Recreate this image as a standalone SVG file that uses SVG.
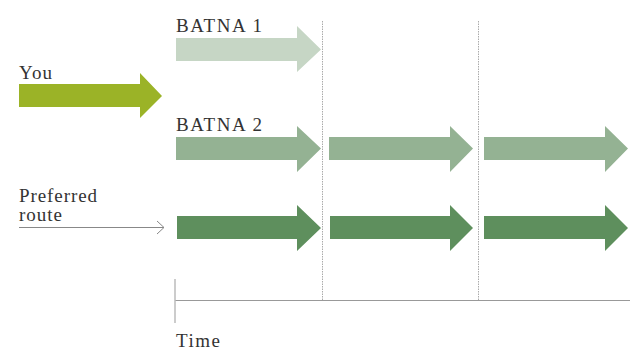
<svg xmlns="http://www.w3.org/2000/svg" width="630" height="352" viewBox="0 0 630 352">
<style>
.lbl{font-family:"Liberation Serif","DejaVu Serif",serif;font-size:19px;fill:#333}
.b1{fill:#c6d6c5}
.b2{fill:#94b293}
.pr{fill:#5e8f5d}
.you{fill:#9bb327}
.grid{stroke:#aaa;stroke-width:1;stroke-dasharray:1.5,1}
</style>
<g id="grid">
<line class="grid" x1="322.5" y1="21" x2="322.5" y2="300"/>
<line class="grid" x1="478.5" y1="21" x2="478.5" y2="300"/>
</g>
<g id="axis">
<line x1="175" y1="300.5" x2="630" y2="300.5" stroke="#999" stroke-width="1.2"/>
<line x1="175" y1="279" x2="175" y2="323" stroke="#bbb" stroke-width="1.5"/>
<text class="lbl" x="176" y="347" textLength="44">Time</text>
</g>
<g id="you">
<text class="lbl" x="19" y="79" textLength="33">You</text>
<path class="you" d="M19,84 H140 V73 L162,96 L140,118 V107 H19 Z"/>
</g>
<g id="batna1">
<text class="lbl" x="176" y="32" textLength="86">BATNA 1</text>
<path class="b1" d="M176,38 H297 V26 L321,49.5 L297,72 V61 H176 Z"/>
</g>
<g id="batna2">
<text class="lbl" x="176" y="131" textLength="86">BATNA 2</text>
<path class="b2" d="M176,137 H297 V126 L321,148.5 L297,172 V160 H176 Z"/>
<path class="b2" d="M329,137 H450 V126 L473,148.5 L450,172 V160 H329 Z"/>
<path class="b2" d="M484,137 H605 V126 L628,148.5 L605,172 V160 H484 Z"/>
</g>
<g id="preferred">
<text class="lbl" x="19" y="202" font-size="16" textLength="78">Preferred</text>
<text class="lbl" x="19" y="221" font-size="16" textLength="43">route</text>
<path class="pr" d="M177,216 H297 V205 L321,228 L297,251 V239 H177 Z"/>
<path class="pr" d="M330,216 H450 V205 L473,228 L450,251 V239 H330 Z"/>
<path class="pr" d="M484,216 H605 V205 L628,228 L605,251 V239 H484 Z"/>
</g>
<g id="connectors">
<line x1="19" y1="227.5" x2="164" y2="227.5" stroke="#888" stroke-width="1"/>
<polyline points="157,221 164,227.5 157,234" fill="none" stroke="#888" stroke-width="1"/>
</g>
</svg>
